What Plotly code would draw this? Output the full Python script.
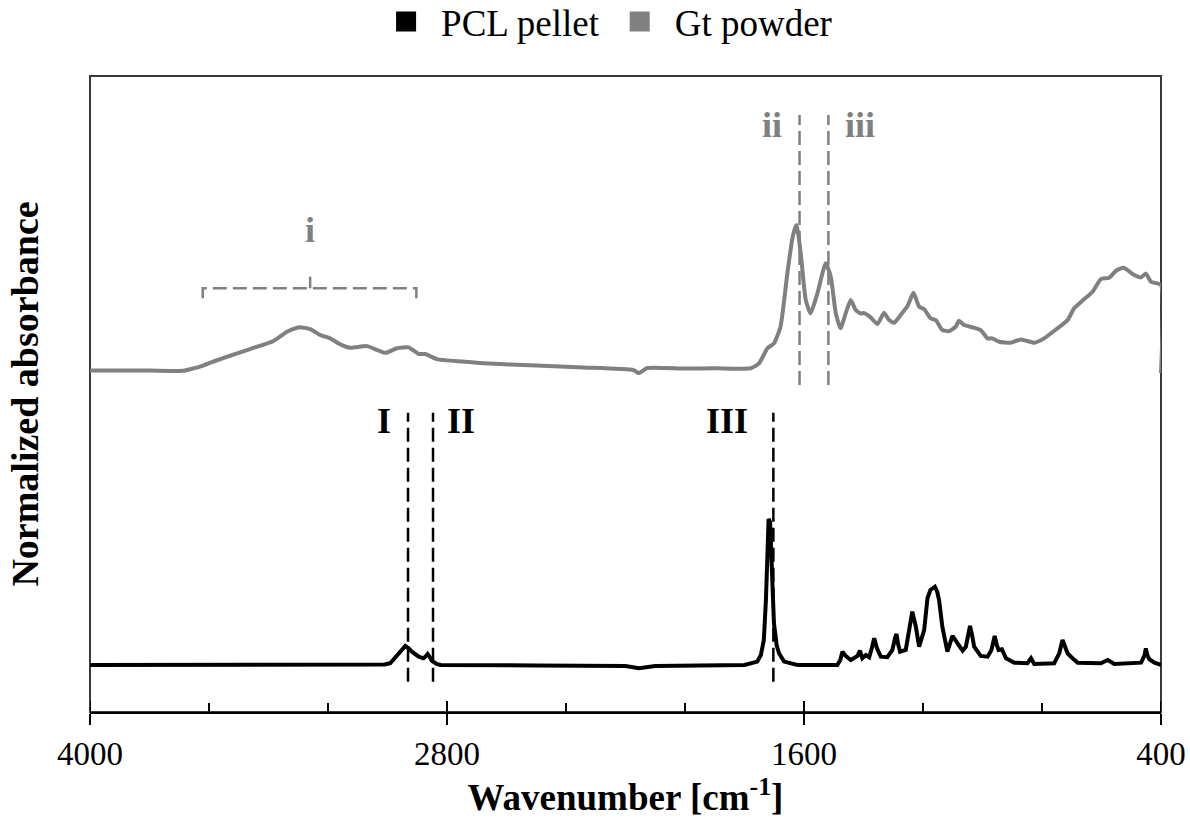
import plotly.graph_objects as go

# ---------------- data ----------------
PCL_WAVENUMBER = [4000, 3500, 3100, 3010, 2991, 2968, 2950, 2940, 2930, 2918, 2895, 2879, 2870, 2865,
                  2858, 2851, 2835, 2822, 2500, 2200, 2155, 2100, 1800, 1757, 1745, 1735, 1728, 1723,
                  1719, 1714, 1710, 1705, 1701, 1692, 1684, 1667, 1622, 1488, 1478, 1471, 1460, 1443,
                  1420, 1412, 1404, 1392, 1381, 1372, 1364, 1355, 1342, 1320, 1303, 1294, 1289, 1283,
                  1277, 1258, 1247, 1236, 1224, 1213, 1196, 1185, 1175, 1160, 1152, 1146, 1135, 1118,
                  1101, 1084, 1067, 1056, 1042, 1035, 1028, 1006, 983, 970, 959, 952, 946, 935, 921,
                  893, 849, 837, 826, 759, 742, 731, 725, 714, 701, 680, 602, 579, 557, 512, 467, 455,
                  451, 446, 439, 422, 400]
PCL_ABSORBANCE = [0.0, 0.0, 0.0, 0.003, 0.012, 0.068, 0.116, 0.130, 0.116, 0.091, 0.057, 0.046, 0.062,
                  0.075, 0.055, 0.029, 0.007, 0.0, -0.003, -0.007, -0.023, -0.007, 0.0, 0.023, 0.068,
                  0.171, 0.445, 0.742, 1.0, 0.979, 0.719, 0.445, 0.286, 0.137, 0.080, 0.023, 0.0, 0.0,
                  0.034, 0.091, 0.062, 0.034, 0.062, 0.098, 0.046, 0.068, 0.053, 0.116, 0.183, 0.116,
                  0.057, 0.053, 0.103, 0.185, 0.212, 0.137, 0.091, 0.103, 0.217, 0.365, 0.262, 0.125,
                  0.240, 0.457, 0.514, 0.536, 0.500, 0.445, 0.262, 0.091, 0.199, 0.149, 0.098, 0.125,
                  0.267, 0.205, 0.125, 0.062, 0.057, 0.103, 0.199, 0.137, 0.103, 0.108, 0.046, 0.016,
                  0.012, 0.046, 0.007, 0.012, 0.080, 0.171, 0.137, 0.080, 0.053, 0.016, 0.012, 0.034,
                  0.007, 0.012, 0.016, 0.068, 0.114, 0.068, 0.039, 0.016, 0.0]

GT_WAVENUMBER = [4000, 3800, 3686, 3660, 3630, 3580, 3529, 3462, 3383, 3338, 3300, 3288, 3260, 3226,
                 3193, 3160, 3125, 3069, 3007, 2968, 2929, 2895, 2873, 2834, 2750, 2677, 2500, 2340,
                 2173, 2156, 2127, 2000, 1900, 1779, 1751, 1723, 1701, 1679, 1656, 1640, 1632, 1625,
                 1611, 1594, 1578, 1555, 1527, 1510, 1493, 1477, 1460, 1443, 1426, 1409, 1398, 1376,
                 1353, 1331, 1314, 1297, 1275, 1252, 1232, 1213, 1196, 1174, 1157, 1135, 1112, 1090,
                 1079, 1062, 1028, 1006, 983, 967, 944, 905, 871, 826, 793, 748, 714, 692, 658, 630,
                 602, 574, 551, 526, 490, 467, 451, 434, 400, 400]
GT_ABSORBANCE = [-0.003, -0.003, -0.005, 0.007, 0.023, 0.062, 0.098, 0.144, 0.199, 0.262, 0.291, 0.292,
                 0.281, 0.240, 0.217, 0.178, 0.153, 0.164, 0.118, 0.149, 0.155, 0.110, 0.110, 0.075,
                 0.058, 0.046, 0.031, 0.018, 0.0, -0.021, 0.014, 0.010, 0.012, 0.012, 0.046, 0.149,
                 0.183, 0.297, 0.662, 0.890, 0.960, 0.993, 0.799, 0.479, 0.388, 0.525, 0.731, 0.639,
                 0.388, 0.286, 0.388, 0.479, 0.411, 0.388, 0.390, 0.361, 0.315, 0.392, 0.342, 0.324,
                 0.377, 0.438, 0.529, 0.434, 0.416, 0.354, 0.342, 0.274, 0.267, 0.297, 0.338, 0.308,
                 0.290, 0.274, 0.217, 0.217, 0.194, 0.187, 0.210, 0.187, 0.217, 0.286, 0.342, 0.423,
                 0.486, 0.536, 0.623, 0.632, 0.680, 0.701, 0.651, 0.635, 0.662, 0.605, 0.582, -0.021]

SERIES_NAMES = ["PCL pellet", "Gt powder"]

# band markers
PCL_BANDS = [2931, 2847, 1703]
PCL_BAND_LABELS = ["I", "II", "III"]
GT_BANDS = [1615, 1518]
GT_BAND_LABELS = ["ii", "iii"]
GT_BROAD_BAND = [3621, 3260, 2903]   # start, centre, end of bracket "i"
GT_BROAD_LABEL = "i"

X_MAJOR_TICKS = [4000, 2800, 1600, 400]
X_MINOR_TICKS = [3600, 3200, 2400, 2000, 1200, 800]

# ---------------- styling / layout ----------------
GT_OFFSET = 2.02
BLACK = "#000000"
GREY = "#808080"
FONT = "Liberation Serif"
Y_MIN, Y_MAX = -0.322, 4.034
PLOT_H = 636  # pixel height of plot area

fig = go.Figure()

fig.add_trace(go.Scatter(x=PCL_WAVENUMBER, y=PCL_ABSORBANCE, mode="lines",
                         line=dict(color=BLACK, width=4), showlegend=False, name=SERIES_NAMES[0]))
fig.add_trace(go.Scatter(x=GT_WAVENUMBER, y=[v + GT_OFFSET for v in GT_ABSORBANCE], mode="lines",
                         line=dict(color=GREY, width=4, shape="spline", smoothing=0.5),
                         showlegend=False, name=SERIES_NAMES[1]))

# legend entries (square symbols)
for name, col in zip(SERIES_NAMES, [BLACK, GREY]):
    fig.add_trace(go.Scatter(x=[None], y=[None], mode="markers", name=name,
                             marker=dict(symbol="square", size=16, color=col,
                                         line=dict(color=col, width=4))))

shapes = []
dash = "14px,6px"
# PCL dashed band lines
for w in PCL_BANDS:
    shapes.append(dict(type="line", xref="x", yref="y", x0=w, x1=w, y0=-0.114, y1=1.728,
                       line=dict(color=BLACK, width=2.5, dash=dash)))
# Gt dashed band lines
for w in GT_BANDS:
    shapes.append(dict(type="line", xref="x", yref="y", x0=w, x1=w, y0=1.918, y1=3.767,
                       line=dict(color=GREY, width=2.5, dash=dash)))
# bracket i
b0, bc, b1 = GT_BROAD_BAND
ybar, yend, ytop = 2.580, 2.512, 2.660
shapes.append(dict(type="path", xref="x", yref="y",
                   path=f"M {b0},{yend} L {b0},{ybar} L {b1},{ybar} L {b1},{yend}",
                   line=dict(color=GREY, width=2.5, dash=dash)))
shapes.append(dict(type="line", xref="x", yref="y", x0=bc, x1=bc, y0=ybar, y1=ytop,
                   line=dict(color=GREY, width=2.5)))
# plot frame
shapes.append(dict(type="rect", xref="paper", yref="paper", x0=0, x1=1, y0=0, y1=1,
                   line=dict(color="#3a3a3a", width=2), layer="below"))
# inner half of the major ticks (they cross the axis line)
for w in X_MAJOR_TICKS:
    shapes.append(dict(type="line", xref="x", yref="paper", x0=w, x1=w, y0=0, y1=11 / PLOT_H,
                       line=dict(color=BLACK, width=2)))

annotations = []
lab_font = dict(family=FONT, size=36)
for w, t, xs in zip(PCL_BANDS, PCL_BAND_LABELS, [-24, 28, -46]):
    annotations.append(dict(x=w, y=1.671, xref="x", yref="y", text=f"<b>{t}</b>", showarrow=False,
                            xshift=xs, font=dict(color=BLACK, **lab_font)))
for w, t, xs in zip(GT_BANDS, GT_BAND_LABELS, [-28, 32]):
    annotations.append(dict(x=w, y=3.699, xref="x", yref="y", text=f"<b>{t}</b>", showarrow=False,
                            xshift=xs, font=dict(color=GREY, **lab_font)))
annotations.append(dict(x=bc, y=2.979, xref="x", yref="y", text=f"<b>{GT_BROAD_LABEL}</b>",
                        showarrow=False, font=dict(color=GREY, **lab_font)))

fig.update_layout(
    width=1190, height=822,
    margin=dict(l=90, r=29, t=76, b=110, autoexpand=False),
    paper_bgcolor="white", plot_bgcolor="white",
    font=dict(family=FONT, color=BLACK),
    shapes=shapes, annotations=annotations,
    legend=dict(orientation="h", x=0.48, xanchor="center", y=1.085, yanchor="middle",
                itemwidth=60, font=dict(family=FONT, size=37, color=BLACK),
                bgcolor="rgba(0,0,0,0)"),
    xaxis=dict(range=[4000, 400], tickvals=X_MAJOR_TICKS, ticktext=[str(v) for v in X_MAJOR_TICKS],
               ticks="outside", ticklen=11, tickwidth=2, tickcolor=BLACK, automargin=False,
               minor=dict(tickvals=X_MINOR_TICKS, ticks="inside", ticklen=9, tickwidth=2, tickcolor=BLACK),
               showline=True, linecolor=BLACK, linewidth=2, showgrid=False, zeroline=False,
               tickfont=dict(family=FONT, size=33, color=BLACK),
               title=dict(text="<b>Wavenumber [cm<sup>-1</sup>]</b>", standoff=14,
                          font=dict(family=FONT, size=37, color=BLACK))),
    yaxis=dict(range=[Y_MIN, Y_MAX], showticklabels=False, ticks="", showgrid=False, zeroline=False,
               showline=False, automargin=False,
               title=dict(text="<b>Normalized absorbance</b>", standoff=38,
                          font=dict(family=FONT, size=38, color=BLACK))),
)

fig.write_html("out.html")
